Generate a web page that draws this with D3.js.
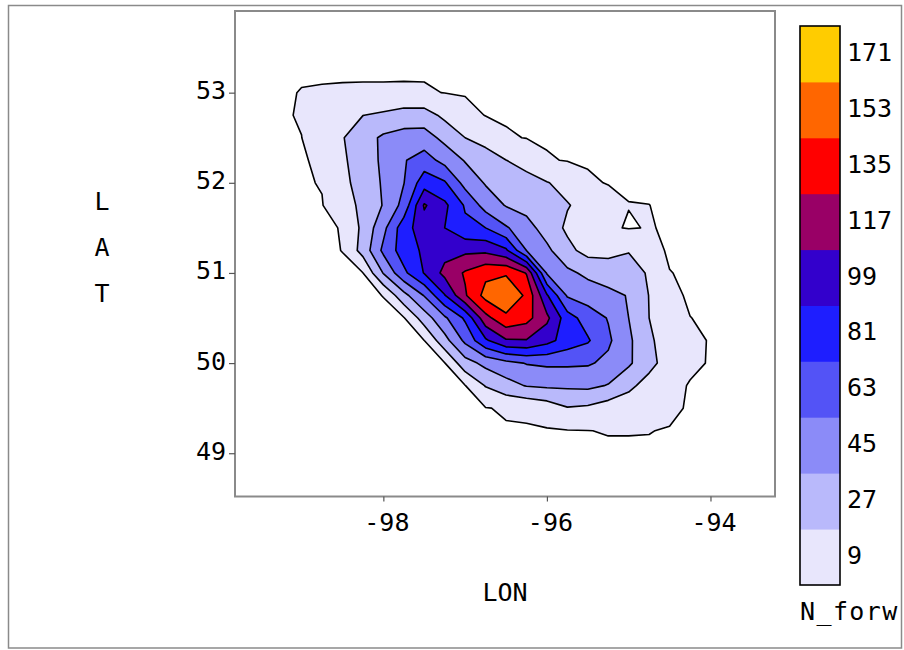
<!DOCTYPE html>
<html><head><meta charset="utf-8">
<script src="https://cdn.jsdelivr.net/npm/d3@7"></script>
<style>
body{margin:0;background:#fff}
svg{display:block}
text{font-family:"DejaVu Sans Mono",monospace;font-size:25px;fill:#000}
</style>
</head><body>
<svg id="chart" width="904" height="650"></svg>
<script>
// Grid coordinates (degrees)
const lons = [-99.5,-99.25,-99,-98.75,-98.5,-98.25,-98,-97.75,-97.5,-97.25,-97,-96.75,-96.5,-96.25,-96,-95.75,-95.5,-95.25,-95,-94.75,-94.5,-94.25,-94,-93.75];
const lats = [53.5,53.25,53,52.75,52.5,52.25,52,51.75,51.5,51.25,51,50.75,50.5,50.25,50,49.75,49.5,49.25,49];
// N_forw values on the grid (rows = lats, cols = lons)
const nForw = [
[0,0,0,0,0,0,0,0,0,0,0,0,0,0,0,0,0,0,0,0,0,0,0,0],
[0,0,0,0,0,0,0,0,0,0,0,0,0,0,0,0,0,0,0,0,0,0,0,0],
[0,0,1.3,1.6,1.8,1.9,1.9,2.0,1.9,0.8,0,0,0,0,0,0,0,0,0,0,0,0,0,0],
[0,0,1.7,9,15.5,17.8,21,25.6,25.4,14,5.8,0.6,0,0,0,0,0,0,0,0,0,0,0,0],
[0,0,0.9,8.3,17,28.5,39,43,44,30.8,18,11.5,2,0.7,0,0,0,0,0,0,0,0,0,0],
[0,0,0,3,15.3,26.7,39.2,52.7,62,48.2,34.8,26.4,18.2,11.7,1.8,0.5,0,0,0,0,0,0,0,0],
[0,0,0,1.5,13.5,25,38,53.5,82,74,47.7,34.5,29.3,24.2,18.8,12.6,2.5,0.5,0,0,0,0,0,0],
[0,0,0,0.5,9.9,22.3,37,60,110,94,70,46.7,35,29.7,24.3,19,12.4,5.9,1.2,1.05,0,0,0,0],
[0,0,0,0,1.3,22,49,82.4,100,90,76,72,56,43,28,15,8,2.5,0.3,1.5,0,0,0,0],
[0,0,0,0,1.1,24.5,58,81,93,102,104,104,93,54,40,22.7,12,13,17.5,4,0,0,0,0],
[0,0,0,0,0,0.8,37,68,91,113,128,140,142,125,52,40,32,27,22,17,1.2,0,0,0],
[0,0,0,0,0,0,1.1,30,55,89,124,150,158,141,92,52,46,41,35,17.5,3,0,0,0],
[0,0,0,0,0,0,0,0,26.4,51,75,120,140,132,112,80,63.6,53,36,18,9.6,1.1,0,0],
[0,0,0,0,0,0,0,0,0.9,29.6,58,87,106,107,96,82,74,57,39.6,20,12,5,0,0],
[0,0,0,0,0,0,0,0,0,0.5,28.8,41,48.6,55,57,57,56,50,39,22,12,4,0,0],
[0,0,0,0,0,0,0,0,0,0,0.6,19,29.4,37,39,39,40,35,21,13,5.8,0,0,0],
[0,0,0,0,0,0,0,0,0,0,0,0.5,2.2,3,8,17,15,9,10.5,9,3,0,0,0],
[0,0,0,0,0,0,0,0,0,0,0,0,0,0,0,0.5,0.9,1.3,1.3,1.2,0.5,0,0,0],
[0,0,0,0,0,0,0,0,0,0,0,0,0,0,0,0,0,0,0,0,0,0,0,0]
];
const levels = [1,18,36,54,72,90,108,126,144,162];
const legendLabels = ["9","27","45","63","81","99","117","135","153","171"];
const bandColors = ["#e8e6fc","#b9b9fb","#8b8bf8","#5353f6","#1e1eff","#3300cc","#990066","#ff0000","#ff6600","#ffcc00"];
const xTicks = [-98,-96,-94];
const yTicks = [49,50,51,52,53];

const svg = d3.select("#chart");
const plot = {l:235, r:775, t:11, b:496.5};
const x = d3.scaleLinear().domain([-99.814,-93.211]).range([plot.l, plot.r]);
const y = d3.scaleLinear().domain([48.52,53.906]).range([plot.b, plot.t]);

// outer frame
svg.append("rect").attr("x",8.5).attr("y",5.5).attr("width",893).attr("height",642.5)
  .attr("fill","none").attr("stroke","#8a8a8a").attr("stroke-width",1.5);

svg.append("defs").append("clipPath").attr("id","clip").append("rect")
  .attr("x",plot.l).attr("y",plot.t).attr("width",plot.r-plot.l).attr("height",plot.b-plot.t);

const nx = lons.length, ny = lats.length;
const dlon = lons[1]-lons[0], dlat = lats[1]-lats[0];
const contours = d3.contours().size([nx, ny]).thresholds(levels)(nForw.flat());
const tr = d3.geoTransform({point(px, py){
  const lon = lons[0] + (px - 0.5) * dlon;
  const lat = lats[0] + (py - 0.5) * dlat;
  this.stream.point(x(lon), y(lat));
}});
const path = d3.geoPath(tr);

const g = svg.append("g").attr("clip-path","url(#clip)");
g.selectAll("path.fill").data(contours).join("path")
  .attr("class","fill").attr("d", path)
  .attr("fill", (d,i) => bandColors[i]).attr("stroke","none");
g.selectAll("path.line").data(contours).join("path")
  .attr("class","line").attr("d", path)
  .attr("fill","none").attr("stroke","#000").attr("stroke-width",1.6)
  .attr("stroke-linejoin","round");

// plot frame
svg.append("rect").attr("x",plot.l).attr("y",plot.t).attr("width",plot.r-plot.l).attr("height",plot.b-plot.t)
  .attr("fill","none").attr("stroke","#8a8a8a").attr("stroke-width",2);

// y axis
const yAxis = d3.axisLeft(y).tickValues(yTicks).tickSize(6).tickPadding(3).tickFormat(d3.format("d"));
const ya = svg.append("g").attr("transform",`translate(${plot.l},0)`).call(yAxis);
ya.select(".domain").remove();
ya.selectAll(".tick line").attr("stroke","#555").attr("stroke-width",1.2);
ya.selectAll(".tick text").attr("font-size",null).attr("font-family",null)
  .attr("dy",null).attr("y",6).attr("x",-9).style("font-size","25px");

// x axis
const xAxis = d3.axisBottom(x).tickValues(xTicks).tickSize(5).tickFormat(d => d3.format("d")(d).replace("−","-"));
const xa = svg.append("g").attr("transform",`translate(0,${plot.b})`).call(xAxis);
xa.select(".domain").remove();
xa.selectAll(".tick line").attr("stroke","#555").attr("stroke-width",1.2);
xa.selectAll(".tick text").attr("font-size",null).attr("font-family",null)
  .attr("dy",null).attr("y",34).attr("x",3).style("font-size","25px");

// axis titles
svg.append("text").attr("x",505).attr("y",601).attr("text-anchor","middle").text("LON");
["L","A","T"].forEach((ch,i) => {
  svg.append("text").attr("x",102).attr("y",210 + i*45.8).attr("text-anchor","middle").text(ch);
});

// legend
const lg = {x:800, w:40, top:26, bottom:585};
const lgScale = d3.scaleBand().domain(d3.range(levels.length).reverse()).range([lg.top, lg.bottom]);
svg.append("g").selectAll("rect").data(d3.range(levels.length)).join("rect")
  .attr("x", lg.x).attr("y", i => lgScale(i)).attr("width", lg.w).attr("height", lgScale.bandwidth()+0.5)
  .attr("fill", i => bandColors[i]);
svg.append("rect").attr("x",lg.x).attr("y",lg.top).attr("width",lg.w).attr("height",lg.bottom-lg.top)
  .attr("fill","none").attr("stroke","#000").attr("stroke-width",1.6);
svg.append("g").selectAll("text").data(d3.range(levels.length)).join("text")
  .attr("x", lg.x + 47).attr("y", i => lgScale(i) + lgScale.bandwidth()/2 + 7)
  .text(i => legendLabels[i]);
svg.append("text").attr("x",800).attr("y",620).style("letter-spacing","1.4px").text("N_forw");
</script>
</body></html>
